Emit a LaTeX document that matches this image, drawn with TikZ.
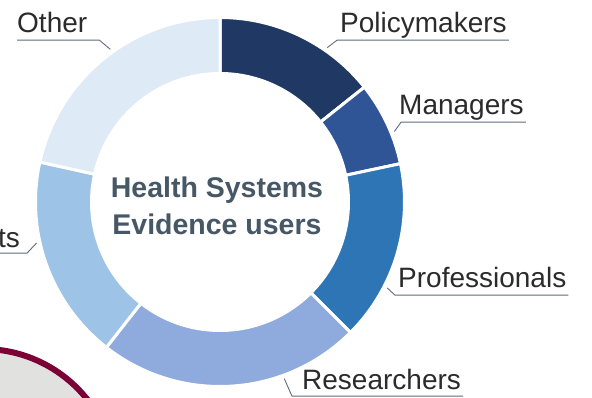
\documentclass[tikz,border=0pt]{standalone}
\usepackage{fontspec}
\setmainfont{Liberation Sans}
\definecolor{policycol}{HTML}{1F3864}
\definecolor{managercol}{HTML}{2F5597}
\definecolor{profcol}{HTML}{2E75B6}
\definecolor{researchcol}{HTML}{8FAADC}
\definecolor{studentcol}{HTML}{9DC3E6}
\definecolor{othercol}{HTML}{DEEBF7}
\definecolor{titlecol}{HTML}{465766}
\definecolor{labelcol}{HTML}{2B2B2B}
\definecolor{leadcol}{HTML}{5F6B78}
\definecolor{maroon}{HTML}{7A0036}
\definecolor{discfill}{HTML}{E1E2DF}
\tikzset{
  seg/.style={fill=#1, draw=white, line width=3pt},
  lbl/.style={anchor=base west, inner sep=0pt, text depth=7pt, text=labelcol,
              font=\fontsize{28}{34}\selectfont},
  lead/.style={draw=leadcol, line width=0.9pt},
}

\begin{document}
\begin{tikzpicture}[x=1pt,y=1pt]
\clip (0,0) rectangle (592,398);
% disc in the corner
\draw[fill=discfill, draw=maroon, line width=6pt] (-17,-84) circle (133);
% ring
\coordinate (c) at (220,196);
\foreach \a/\b/\col in {90/38.5/policycol, 38.5/12/managercol, 12/-45/profcol,
  -45/-128/researchcol, -128/-192.5/studentcol, -192.5/-270/othercol}
{
  \draw[seg=\col] ([shift={(\a:184.5)}]c) arc[start angle=\a, end angle=\b, radius=184.5]
    -- ([shift={(\b:128.5)}]c) arc[start angle=\b, end angle=\a, radius=128.5] -- cycle;
}
\node[align=center, text=titlecol, font=\bfseries\fontsize{28.5}{37}\selectfont] (title)
  at (217,192) {Health Systems\\Evidence users};
% labels
\node[lbl] (other) at (17,365) {Other};
\node[lbl] (policy) at (340,365) {Policymakers};
\node[lbl] (manager) at (399,283) {Managers};
\node[lbl] (prof) at (398,110) {Professionals};
\node[lbl, text depth=6pt] (research) at (302,8) {Researchers};
\node[lbl, anchor=base east, text depth=5pt] (student) at (20,150) {Students};
\foreach \n/\ang in {other/125.7, policy/55.2, manager/22, prof/-27.2,
  research/-70, student/192.6}
{
  \coordinate (\n-pt) at ([shift={(\ang:188)}]c);
}
\draw[lead] (other-pt) -- ([xshift=12pt]other.south east) -- (other.south west);
\draw[lead] (policy-pt) -- ([xshift=-3pt]policy.south west) -- ([xshift=2pt]policy.south east);
\draw[lead] (manager-pt) -- ([xshift=2pt]manager.south west) -- ([xshift=2pt]manager.south east);
\draw[lead] (prof-pt) -- ([xshift=-3pt]prof.south west) -- ([xshift=2pt]prof.south east);
\draw[lead] (research-pt) -- ([xshift=-10pt]research.south west) -- ([xshift=2pt]research.south east);
\draw[lead] (student-pt) -- ([xshift=7pt]student.south east) -- (student.south west);
\end{tikzpicture}
\end{document}
